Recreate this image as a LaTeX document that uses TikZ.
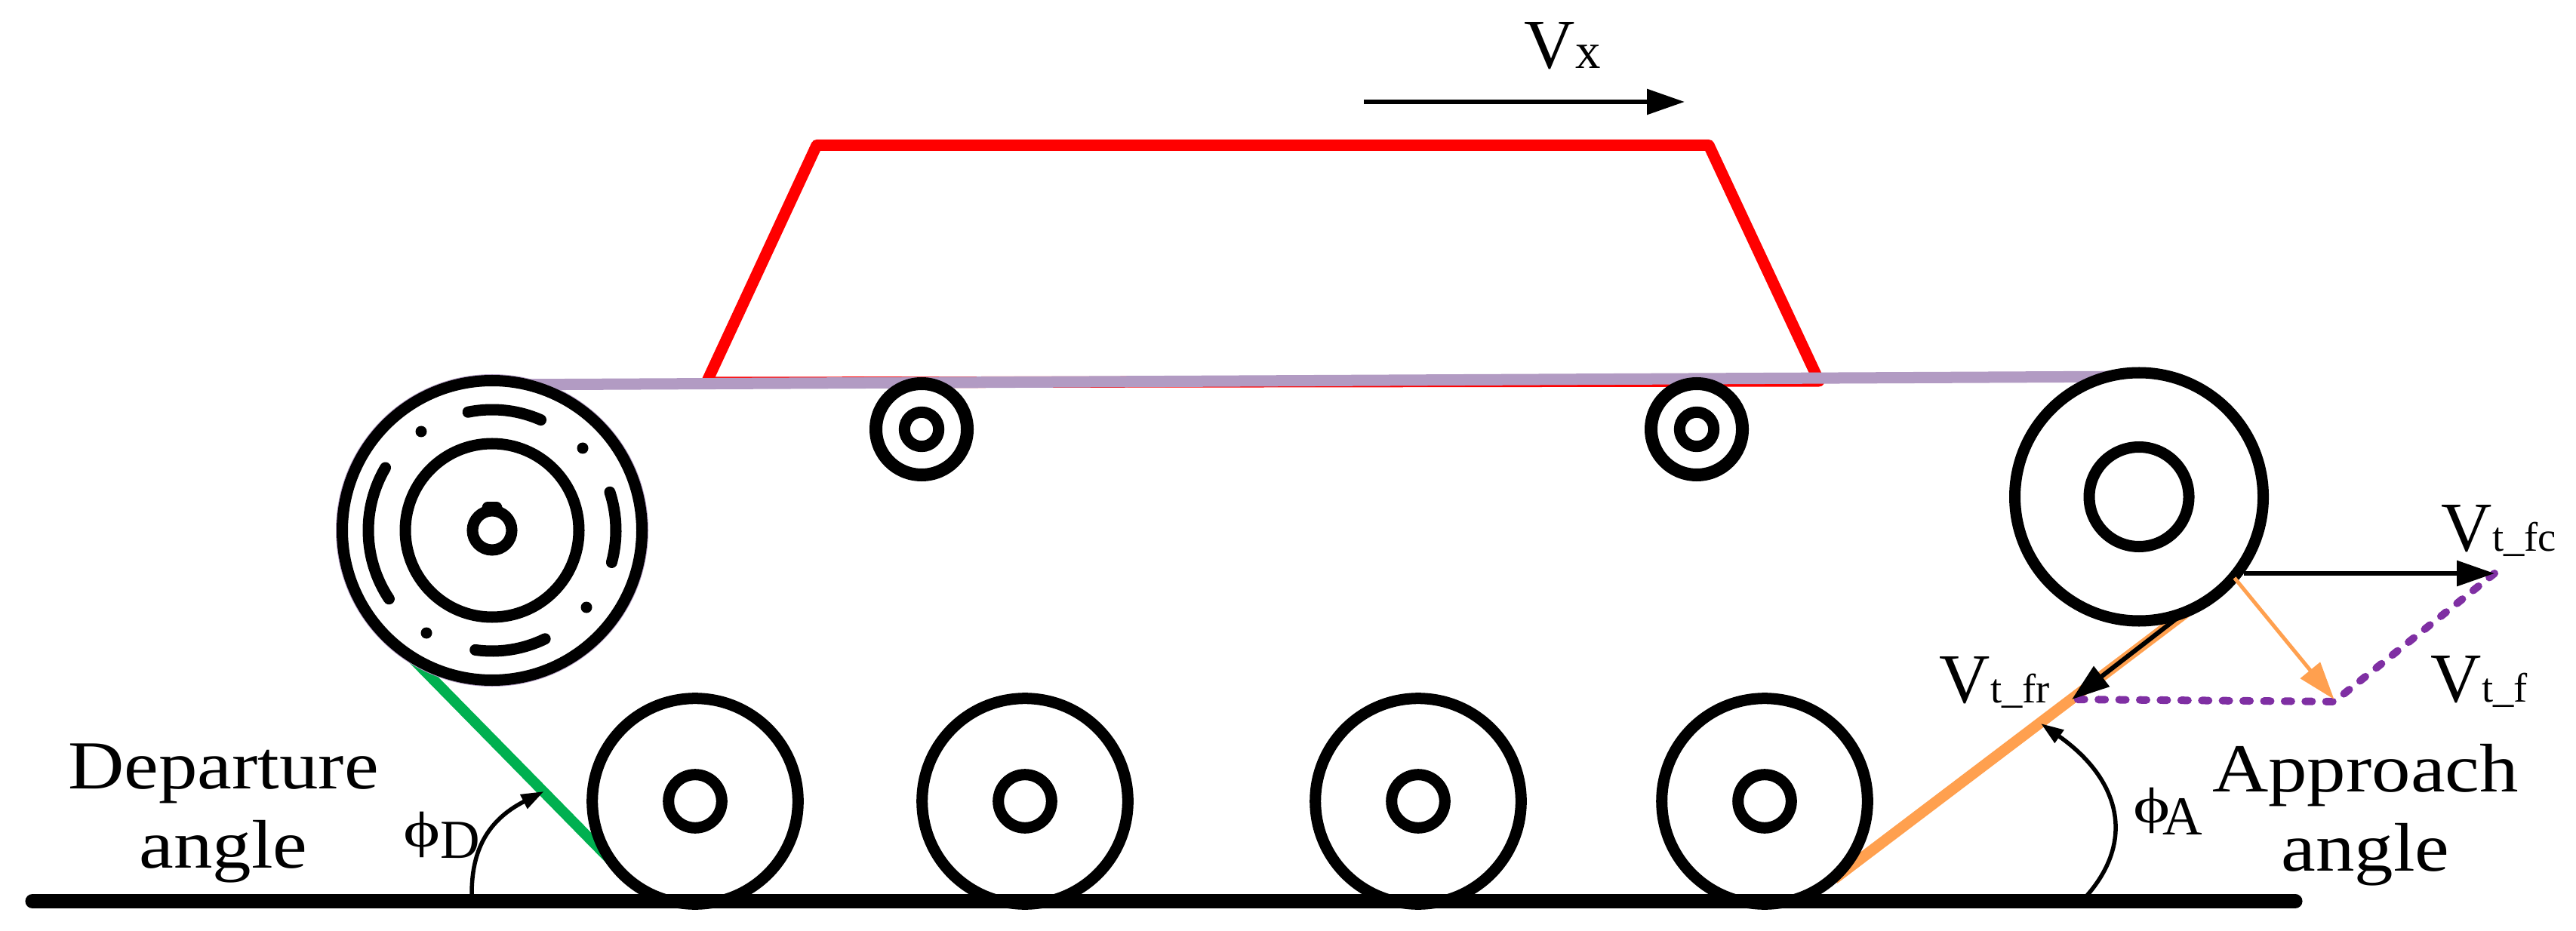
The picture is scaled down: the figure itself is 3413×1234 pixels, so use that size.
\documentclass[tikz,border=0pt]{standalone}
\usepackage{fontspec}
\setmainfont{Liberation Serif}
\newfontfamily\wordfont[FakeStretch=1.13]{Liberation Serif}
\usetikzlibrary{arrows.meta}
\newcommand{\bigv}{\fontsize{26.5}{30}\selectfont V}
\newcommand{\subt}[1]{{\fontsize{15.5}{18}\selectfont #1}}
\newcommand{\bigphi}{{\fontsize{19}{22}\selectfont\raisebox{.15cm}{\scalebox{1.4}[1]{ϕ}}}}
\definecolor{beltpurple}{HTML}{B29BC3}
\definecolor{trackorange}{HTML}{FFA04F}
\definecolor{trackgreen}{HTML}{00B050}
\definecolor{dashpurple}{HTML}{7F2FA3}
\tikzset{
  ring/.style={draw=black,fill=white,line width=.15cm},
  thickarrow/.style={-{Triangle[length=.5cm,width=.33cm]},line width=.06cm},
  anglearrow/.style={-{Triangle[length=.3cm,width=.2cm]},line width=.055cm},
  comp/.style={dashpurple,line width=.1cm,line cap=round,dash pattern=on .09cm off .184cm},
  wordlabel/.style={font=\wordfont\fontsize{25.9}{29.9}\selectfont,align=center,inner sep=0pt},
  symlabel/.style={anchor=base west,inner sep=0pt},
  anglelabel/.style={symlabel,font=\fontsize{20.7}{24}\selectfont},
}
\begin{document}
\begin{tikzpicture}[x=.01cm,y=-.01cm]
\useasboundingbox (0,0) rectangle (3413,1234);
\coordinate (drive) at (652,703);
\coordinate (idler) at (2834,658.5);
\coordinate (r1) at (1221,569);
\coordinate (r2) at (2248,569);
\coordinate (w1) at (921,1062);
\coordinate (w2) at (1358,1062);
\coordinate (w3) at (1879,1062);
\coordinate (w4) at (2338,1062);
\coordinate (bodyBL) at (936,507);
\coordinate (bodyTL) at (1082,192.5);
\coordinate (bodyTR) at (2264,192.5);
\coordinate (bodyBR) at (2410,505);
\coordinate (greenA) at (540,866);
\coordinate (greenB) at (815,1146);
\coordinate (orangeA) at (2430,1165);
\coordinate (orangeB) at (2905,805);
\coordinate (groundA) at (43,1194.5);
\coordinate (groundB) at (3041,1194.5);
\coordinate (vxA) at (1807,135);
\coordinate (vxB) at (2232,135);
\coordinate (fcA) at (2973,760);
\coordinate (fcB) at (3305,760);
\coordinate (frA) at (2890,815);
\coordinate (frB) at (2745,927);
\coordinate (fA) at (2960.5,766);
\coordinate (fB) at (3092.5,927);
\coordinate (dashA) at (2752.7,927);
\coordinate (dashB) at (3092.5,930);
\coordinate (dashC) at (3305,760);
\coordinate (phiDa) at (625,1185);
\coordinate (phiDb) at (720.6,1049);
\coordinate (phiAa) at (2765,1187);
\coordinate (phiAb) at (2704,959);

\draw[red,line width=.15cm,line join=round] (bodyBL) -- (bodyTL) -- (bodyTR) -- (bodyBR) -- cycle;
\draw[beltpurple,line width=.15cm] (650,510) -- (2834,499);
\draw[trackgreen,line width=.14cm] (greenA) -- (greenB);
\draw[trackorange,line width=.145cm] (orangeA) -- (orangeB);

\fill[beltpurple] (drive) circle[radius=207];
\draw[ring] (drive) circle[radius=198.5];
\draw[ring] (drive) circle[radius=115];
\draw[ring] (drive) circle[radius=26];
\draw[line width=.15cm,line cap=round] (646,673) -- (658,673);
\foreach \s/\e/\r in {-101.5/-66.2/160,-18/15/164,-149.6/-213.6/164,-262/-296/160}
  \draw[line width=.15cm,line cap=round] (drive) ++(\s:\r) arc[start angle=\s,end angle=\e,radius=\r];
\foreach \p in {(558,572),(772,594),(777,805),(565,839)}
  \fill \p circle[radius=7.5];

\draw[ring] (idler) circle[radius=164.5];
\draw[ring] (idler) circle[radius=66];
\foreach \c in {r1,r2} {
  \draw[ring,line width=.17cm] (\c) circle[radius=60.5];
  \draw[ring] (\c) circle[radius=22.7];
}
\foreach \c in {w1,w2,w3,w4} {
  \draw[ring] (\c) circle[radius=136.3];
  \draw[ring] (\c) circle[radius=35.3];
}
\draw[line width=.19cm,line cap=round] (groundA) -- (groundB);

\draw[thickarrow] (vxA) -- (vxB);
\draw[comp] (dashA) -- (dashB) -- (dashC);
\draw[thickarrow] (fcA) -- (fcB);
\draw[thickarrow] (frA) -- (frB);
\draw[thickarrow,trackorange,line width=.05cm] (fA) -- (fB);
\draw[anglearrow] (phiDa) .. controls (625,1135) and (640,1090) .. (phiDb);
\draw[anglearrow] (phiAa) .. controls (2832,1110) and (2805,1030) .. (phiAb);

\node[wordlabel] (departure) at (296,1078) {Departure\\angle};
\node[wordlabel] (approach) at (3134,1080) {Approach\\angle};
\node[symlabel] (vx) at (2019,91) {\bigv{\fontsize{19}{22}\selectfont x}};
\node[symlabel] (vfc) at (3234,730) {\bigv\subt{t\_fc}};
\node[symlabel] (vfr) at (2569,931) {\bigv\subt{t\_fr}};
\node[symlabel] (vf) at (3220,930) {\bigv\subt{t\_f}};
\node[anglelabel] (phid) at (534,1137) {\bigphi D};
\node[anglelabel] (phia) at (2826,1106) {\bigphi\hspace{-.1cm}A};
\end{tikzpicture}
\end{document}
